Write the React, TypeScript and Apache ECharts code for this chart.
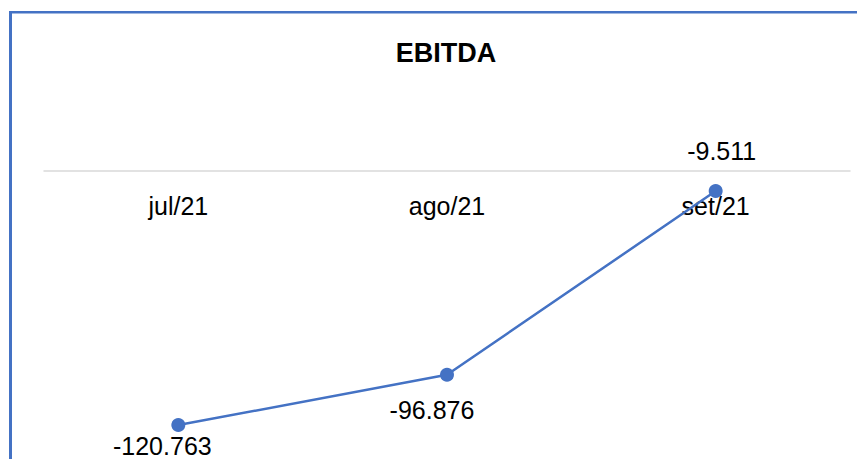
import React, { useEffect, useRef } from "react";
import * as echarts from "echarts";

const categories = ["jul/21", "ago/21", "set/21"];
const ebitda = [-120.763, -96.876, -9.511];
const labelTexts = ["-120.763", "-96.876", "-9.511"];
const labelPositions = ["bottom", "bottom", "top"];
const labelDistances = [1, 16, 21];
const labelShifts = [-16, -15, 6];

export default function App() {
  const ref = useRef<HTMLDivElement>(null);
  useEffect(() => {
    document.body.style.margin = "0";
    const chart = echarts.init(ref.current!, null, { renderer: "svg" });
    const font = "'Liberation Sans', Arial, sans-serif";
    chart.setOption({
      animation: false,
      backgroundColor: "#ffffff",
      title: {
        text: "EBITDA",
        left: 441,
        textAlign: "center",
        top: 34,
        textStyle: { fontFamily: font, fontSize: 27, fontWeight: "bold", color: "#000" },
      },
      grid: { left: 44, width: 806, top: 171, height: 284 },
      xAxis: {
        type: "category",
        data: categories,
        boundaryGap: true,
        position: "top",
        axisLine: { show: true, onZero: false, lineStyle: { color: "#d9d9d9", width: 1.5 } },
        axisTick: { show: false },
        axisLabel: { inside: true, fontFamily: font, fontSize: 25, color: "#000", margin: 22 },
      },
      yAxis: {
        type: "value",
        min: -135,
        max: 0,
        show: false,
        splitLine: { show: false },
      },
      graphic: [
        { type: "rect", shape: { x: 9, y: 11, width: 3, height: 448 }, style: { fill: "#4472C4" } },
        { type: "rect", shape: { x: 9, y: 11, width: 848, height: 2.5 }, style: { fill: "#4472C4" } },
      ],
      series: [
        {
          type: "line",
          data: ebitda.map((v, i) => ({
            value: v,
            label: {
              position: labelPositions[i],
              distance: labelDistances[i],
              offset: [labelShifts[i], 0],
            },
          })),
          symbol: "circle",
          symbolSize: 14,
          lineStyle: { color: "#4472C4", width: 2.5 },
          itemStyle: { color: "#4472C4" },
          label: {
            show: true,
            fontFamily: font,
            fontSize: 25,
            color: "#000",
            formatter: (p: any) => labelTexts[p.dataIndex],
          },
        },
      ],
    });
    return () => chart.dispose();
  }, []);
  return <div ref={ref} style={{ width: 857, height: 459 }} />;
}
